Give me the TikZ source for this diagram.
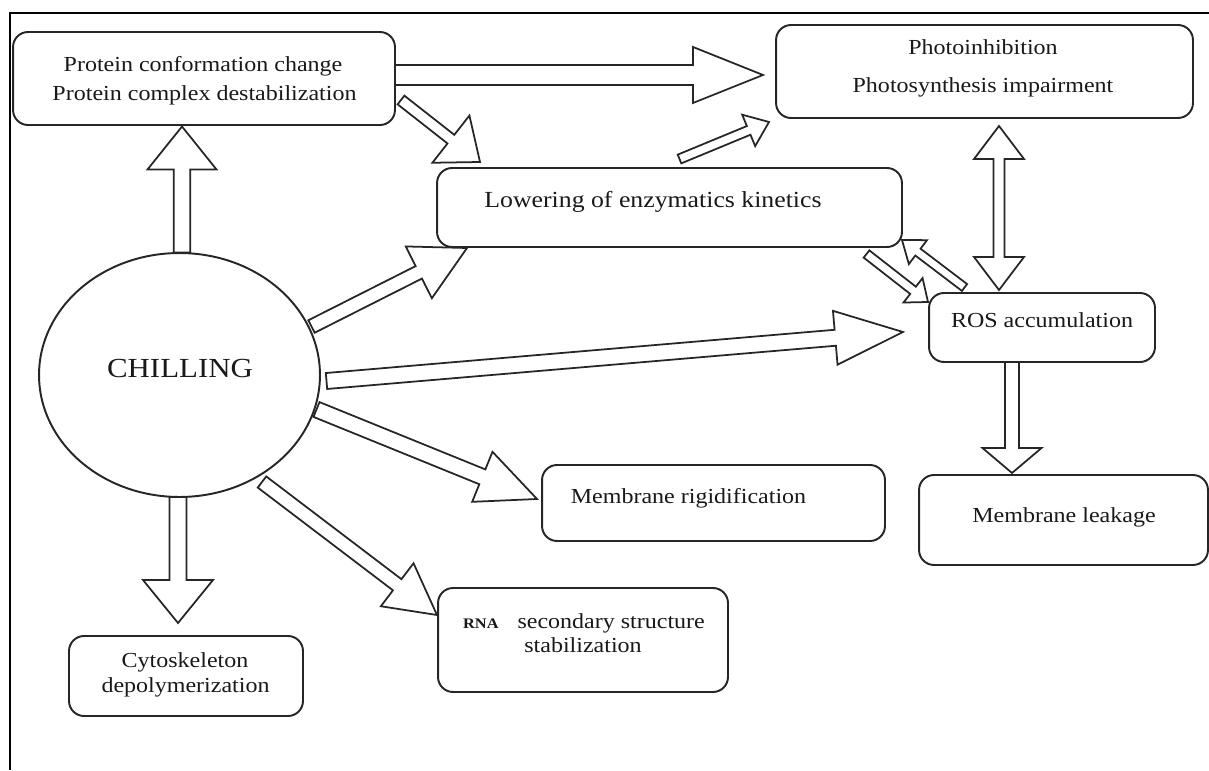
\documentclass[tikz,border=0pt]{standalone}
\usepackage{fontspec}
\setmainfont[FakeStretch=1.12]{Liberation Serif}
\usetikzlibrary{calc,shapes.geometric}
\def\px{0.02cm}
\tikzset{
  box/.style={draw=black!85, line width=1.1pt, rounded corners=0.3cm, fill=white, inner sep=0pt, outer sep=0pt},
  txt/.style={anchor=base, inner sep=0pt, text=black!90, font=\fontsize{12.2}{14}\selectfont},
  barrow/.style={draw=black!85, line width=1pt, fill=white, line join=miter},
  frame/.style={draw=black, line width=1.7pt},
}
% tail, tip, shaft half width, head half width, head length (all in px)
\newcommand{\blockarrow}[5]{%
  \path ($(#2)!#5*\px!(#1)$) coordinate (hb);
  \draw[barrow] ($(#1)!#3*\px!90:(#2)$) -- ($(hb)!#3*\px!90:(#2)$) -- ($(hb)!#4*\px!90:(#2)$) -- (#2) -- ($(hb)!#4*\px!-90:(#2)$) -- ($(hb)!#3*\px!-90:(#2)$) -- ($(#1)!#3*\px!-90:(#2)$) -- cycle;
}
% tip A, tip B, shaft half width, head half width, head length
\newcommand{\dblarrow}[5]{%
  \path ($(#1)!#5*\px!(#2)$) coordinate (ha) ($(#2)!#5*\px!(#1)$) coordinate (hb);
  \draw[barrow] (#1) -- ($(ha)!#4*\px!90:(#2)$) -- ($(ha)!#3*\px!90:(#2)$) -- ($(hb)!#3*\px!-90:(#1)$) -- ($(hb)!#4*\px!-90:(#1)$) -- (#2) -- ($(hb)!#4*\px!90:(#1)$) -- ($(hb)!#3*\px!90:(#1)$) -- ($(ha)!#3*\px!-90:(#2)$) -- ($(ha)!#4*\px!-90:(#2)$) -- cycle;
}
\begin{document}
\begin{tikzpicture}[x=0.02cm, y=-0.02cm]
\useasboundingbox (0,0) rectangle (1209,770);
\fill[white] (0,0) rectangle (1209,770);
\draw[frame] (10,770) -- (10,13) -- (1209,13);

% boxes
\node[box, minimum width=7.64cm, minimum height=1.86cm] (protein) at (204,78.5) {};
\node[box, minimum width=8.34cm, minimum height=1.86cm] (photo) at (984.5,71.5) {};
\node[box, minimum width=9.30cm, minimum height=1.58cm] (lower) at (669.5,207.5) {};
\node[box, minimum width=4.52cm, minimum height=1.38cm] (ros) at (1042,327.5) {};
\node[box, minimum width=5.78cm, minimum height=1.80cm] (leak) at (1063.5,520) {};
\node[box, minimum width=6.86cm, minimum height=1.52cm] (rigid) at (713.5,503) {};
\node[box, minimum width=5.80cm, minimum height=2.08cm] (rna) at (583,640) {};
\node[box, minimum width=4.68cm, minimum height=1.60cm] (cyto) at (186,676) {};
\node[draw=black!85, line width=1.1pt, ellipse, fill=white, inner sep=0pt, outer sep=0pt, minimum width=5.62cm, minimum height=4.88cm] (chill) at (179.5,375) {};

% arrow end points
\coordinate (a1t) at (182,252.5); \coordinate (a1h) at (182,126.5);
\coordinate (a2t) at (178,497);   \coordinate (a2h) at (178,623);
\coordinate (a3t) at (395,75);    \coordinate (a3h) at (763,75);
\coordinate (a4t) at (401,100);   \coordinate (a4h) at (480,162);
\coordinate (a5t) at (679.5,159); \coordinate (a5h) at (769,122);
\coordinate (a6t) at (311.5,326.5); \coordinate (a6h) at (467,248);
\coordinate (a7t) at (326.5,381); \coordinate (a7h) at (903,332);
\coordinate (a8t) at (316.5,409.5); \coordinate (a8h) at (537,499);
\coordinate (a9t) at (262,482);   \coordinate (a9h) at (437,615);
\coordinate (a10t) at (866.5,254); \coordinate (a10h) at (928,302);
\coordinate (a11t) at (964.5,287.5); \coordinate (a11h) at (902,240);
\coordinate (a12a) at (999,126);  \coordinate (a12b) at (999,290);
\coordinate (a13t) at (1012,362); \coordinate (a13h) at (1012,473);

\blockarrow{a1t}{a1h}{8.3}{34.5}{43}
\blockarrow{a2t}{a2h}{8.5}{35}{43}
\blockarrow{a3t}{a3h}{10}{28}{70}
\blockarrow{a4t}{a4h}{5.5}{30}{37}
\blockarrow{a5t}{a5h}{4.7}{17}{22}
\blockarrow{a6t}{a6h}{7}{29}{54}
\blockarrow{a7t}{a7h}{8}{27}{68}
\blockarrow{a8t}{a8h}{8}{27}{59}
\blockarrow{a9t}{a9h}{7}{27}{50}
\blockarrow{a10t}{a10h}{4.6}{15.5}{19}
\blockarrow{a11t}{a11h}{4.3}{15}{20}
\dblarrow{a12a}{a12b}{5.5}{25}{33}
\blockarrow{a13t}{a13h}{7}{29.5}{25}

% texts
\node[txt] (p1) at (203,72) {Protein conformation change};
\node[txt] (p2) at (204.5,101) {Protein complex destabilization};
\node[txt] (h1) at (983,55) {Photoinhibition};
\node[txt] (h2) at (983,93) {Photosynthesis impairment};
\node[txt, font=\fontsize{13.1}{15}\selectfont] (l1) at (653,208) {Lowering of enzymatics kinetics};
\node[txt] (r1) at (1042,327) {ROS accumulation};
\node[txt] (m1) at (1064,522) {Membrane leakage};
\node[txt] (g1) at (688.5,503) {Membrane rigidification};
\node[txt] (n1) at (584,628) {{\bfseries\fontsize{8.3}{10}\selectfont RNA}\hspace{10.8pt}secondary structure};
\node[txt] (n2) at (583,652) {stabilization};
\node[txt] (c1) at (185,667) {Cytoskeleton};
\node[txt] (c2) at (185.5,692) {depolymerization};
\node[txt, font=\fontsize{15.7}{18}\selectfont] (ch) at (180,377) {CHILLING};
\end{tikzpicture}
\end{document}
